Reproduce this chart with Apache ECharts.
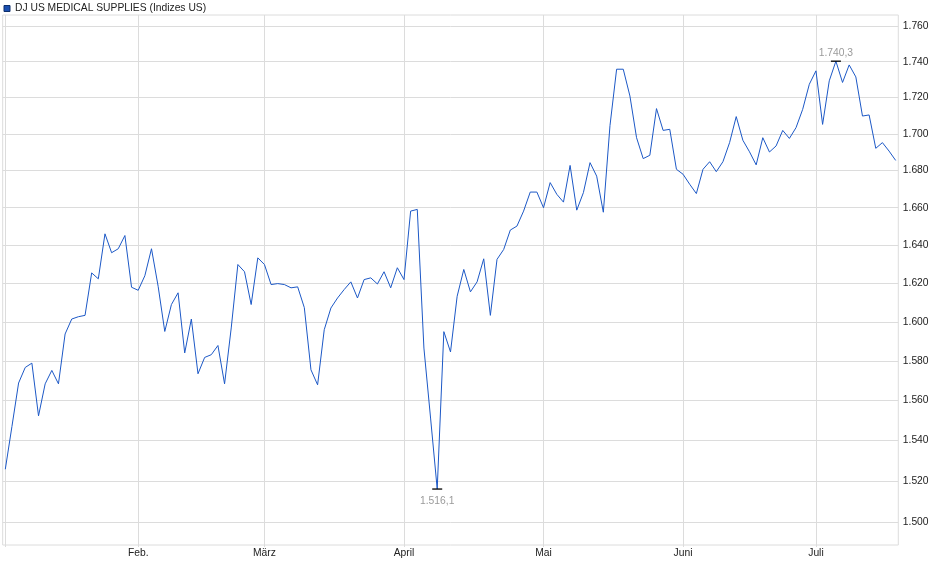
<!DOCTYPE html>
<html>
<head>
<meta charset="utf-8">
<script src="https://cdn.jsdelivr.net/npm/echarts@6.0.0/dist/echarts.min.js"></script>
<style>
html,body{margin:0;padding:0;background:#fff;}
#chart{width:940px;height:579px;}
</style>
</head>
<body>
<div id="chart"></div>
<script>
const seriesName = 'DJ US MEDICAL SUPPLIES (Indizes US)';

const dates = [
'2025-01-02','2025-01-03','2025-01-06','2025-01-07','2025-01-08','2025-01-10','2025-01-13','2025-01-14','2025-01-15','2025-01-16','2025-01-17','2025-01-21','2025-01-22','2025-01-23','2025-01-24','2025-01-27','2025-01-28','2025-01-29','2025-01-30','2025-01-31',
'2025-02-03','2025-02-04','2025-02-05','2025-02-06','2025-02-07','2025-02-10','2025-02-11','2025-02-12','2025-02-13','2025-02-14','2025-02-18','2025-02-19','2025-02-20','2025-02-21','2025-02-24','2025-02-25','2025-02-26','2025-02-27','2025-02-28',
'2025-03-03','2025-03-04','2025-03-05','2025-03-06','2025-03-07','2025-03-10','2025-03-11','2025-03-12','2025-03-13','2025-03-14','2025-03-17','2025-03-18','2025-03-19','2025-03-20','2025-03-21','2025-03-24','2025-03-25','2025-03-26','2025-03-27','2025-03-28','2025-03-31',
'2025-04-01','2025-04-02','2025-04-03','2025-04-04','2025-04-07','2025-04-08','2025-04-09','2025-04-10','2025-04-11','2025-04-14','2025-04-15','2025-04-16','2025-04-17','2025-04-21','2025-04-22','2025-04-23','2025-04-24','2025-04-25','2025-04-28','2025-04-29','2025-04-30',
'2025-05-01','2025-05-02','2025-05-05','2025-05-06','2025-05-07','2025-05-08','2025-05-09','2025-05-12','2025-05-13','2025-05-14','2025-05-15','2025-05-16','2025-05-19','2025-05-20','2025-05-21','2025-05-22','2025-05-23','2025-05-27','2025-05-28','2025-05-29','2025-05-30',
'2025-06-02','2025-06-03','2025-06-04','2025-06-05','2025-06-06','2025-06-09','2025-06-10','2025-06-11','2025-06-12','2025-06-13','2025-06-16','2025-06-17','2025-06-18','2025-06-20','2025-06-23','2025-06-24','2025-06-25','2025-06-26','2025-06-27','2025-06-30',
'2025-07-01','2025-07-02','2025-07-03','2025-07-07','2025-07-08','2025-07-09','2025-07-10','2025-07-11','2025-07-14','2025-07-15','2025-07-16','2025-07-17','2025-07-18'
];

const values = [
1525.8,1547.0,1568.8,1576.7,1578.9,1552.3,1568.4,1575.2,1568.4,1593.8,
1601.5,1602.7,1603.4,1625.5,1622.4,1646.1,1636.1,1638.2,1645.2,1618.0,
1616.4,1624.0,1638.2,1618.5,1595.1,1609.0,1615.1,1584.1,1601.5,1573.5,
1581.8,1583.2,1587.9,1568.4,1596.9,1629.9,1626.1,1609.0,1633.4,1629.9,
1619.4,1619.9,1619.4,1617.7,1618.2,1607.4,1575.5,1567.9,1596.0,1607.2,
1612.4,1616.8,1620.8,1612.4,1622.0,1622.9,1619.7,1626.1,1617.7,1628.2,
1622.0,1658.2,1659.1,1586.6,1551.2,1516.1,1595.0,1584.6,1613.3,1627.3,
1615.6,1620.8,1632.9,1603.4,1632.6,1637.8,1648.1,1650.2,1658.2,1668.4,
1668.4,1660.0,1673.5,1667.2,1663.0,1682.8,1658.7,1668.1,1684.3,1677.0,
1657.6,1704.5,1735.8,1735.8,1720.9,1697.9,1686.5,1688.3,1713.9,1701.9,
1702.5,1680.7,1678.0,1672.6,1667.6,1680.7,1684.8,1679.4,1684.8,1695.2,
1709.5,1696.5,1690.2,1683.1,1697.9,1690.1,1693.4,1701.9,1697.5,1703.4,
1713.5,1727.4,1734.9,1705.2,1729.3,1740.3,1728.4,1738.2,1731.5,1709.8,
1710.4,1692.1,1695.2,1690.6,1685.5
];

const yTicks = [1500,1520,1540,1560,1580,1600,1620,1640,1660,1680,1700,1720,1740,1760];
const monthNames = ['Jan.','Feb.','März','April','Mai','Juni','Juli','Aug.','Sep.','Okt.','Nov.','Dez.'];

const yMin = 1489.0, yMax = 1766.4;

function deFmt(v, dec) {
  const s = Number(v).toFixed(dec);
  const parts = s.split('.');
  const intPart = parts[0].replace(/\B(?=(\d{3})+(?!\d))/g, '.');
  return parts.length > 1 ? intPart + ',' + parts[1] : intPart;
}
function isMonthStart(idx) {
  if (idx === 0) return true;
  return dates[idx].slice(5, 7) !== dates[idx - 1].slice(5, 7);
}

const FONT = "'Liberation Sans', Arial, sans-serif";
const GRID_COLOR = '#dcdcdc';
const LINE_COLOR = '#1c58c6';

const chart = echarts.init(document.getElementById('chart'));
chart.setOption({
  animation: false,
  textStyle: { fontFamily: FONT },
  legend: {
    left: 3.5, top: 3.5, padding: 0,
    selectedMode: false,
    itemWidth: 6, itemHeight: 6,
    textStyle: { fontFamily: FONT, fontSize: 10.3, color: '#222' },
    data: [{ name: seriesName, icon: 'rect',
      itemStyle: { color: '#1a4fb0', borderColor: '#0e2f6b', borderWidth: 1 } }]
  },
  grid: [
    { left: 5.3, right: 44.3, top: 15, bottom: 34, containLabel: false },
    { left: 2.7, right: 41.7, top: 15, bottom: 34, containLabel: false,
      show: true, borderColor: GRID_COLOR, borderWidth: 1, backgroundColor: 'transparent' }
  ],
  xAxis: [
    {
      gridIndex: 0, type: 'category', data: dates, boundaryGap: false,
      axisLine: { show: false },
      axisTick: { show: true, length: 2, lineStyle: { color: GRID_COLOR },
        interval: (i) => isMonthStart(i) },
      splitLine: { show: true, lineStyle: { color: GRID_COLOR, width: 1 },
        interval: (i) => isMonthStart(i) },
      axisLabel: {
        interval: (i) => i > 0 && isMonthStart(i),
        margin: 3, fontSize: 10.3, color: '#222', fontFamily: FONT,
        formatter: (v) => monthNames[parseInt(v.slice(5, 7), 10) - 1]
      }
    },
    { gridIndex: 1, type: 'value', min: 0, max: 1, show: false }
  ],
  yAxis: [
    { gridIndex: 0, type: 'log', logBase: 10, min: yMin, max: yMax,
      axisLine: { show: false }, axisTick: { show: false },
      axisLabel: { show: false }, splitLine: { show: false } },
    { gridIndex: 1, type: 'log', logBase: 10, min: yMin, max: yMax, show: false,
      splitLine: { show: false } }
  ],
  series: [
    {
      name: 'grid', type: 'line', xAxisIndex: 1, yAxisIndex: 1, data: [],
      silent: true, z: 1,
      markLine: {
        silent: true, z: 1, symbol: ['none', 'none'], animation: false,
        lineStyle: { type: 'solid', color: GRID_COLOR, width: 1 },
        label: { show: true, position: 'end', distance: 4.5, fontSize: 10.3,
          color: '#222', fontFamily: FONT,
          formatter: (p) => deFmt(p.value, 0) },
        emphasis: { disabled: true },
        data: yTicks.map(v => ({ yAxis: v }))
      }
    },
    {
      name: seriesName, type: 'line', xAxisIndex: 0, yAxisIndex: 0,
      data: values, z: 3,
      showSymbol: false, symbol: 'none',
      lineStyle: { color: LINE_COLOR, width: 1 },
      itemStyle: { color: LINE_COLOR },
      markPoint: {
        z: 4, silent: true, animation: false,
        symbol: 'rect', symbolSize: [10, 1.3],
        itemStyle: { color: '#000' },
        label: { show: true, fontSize: 10.3, color: '#9a9a9a', fontFamily: FONT,
          formatter: (p) => deFmt(p.value, 1) },
        data: [
          { type: 'min', label: { position: 'bottom', distance: 6 } },
          { type: 'max', label: { position: 'top', distance: 2 } }
        ]
      }
    }
  ]
});
</script>
</body>
</html>
